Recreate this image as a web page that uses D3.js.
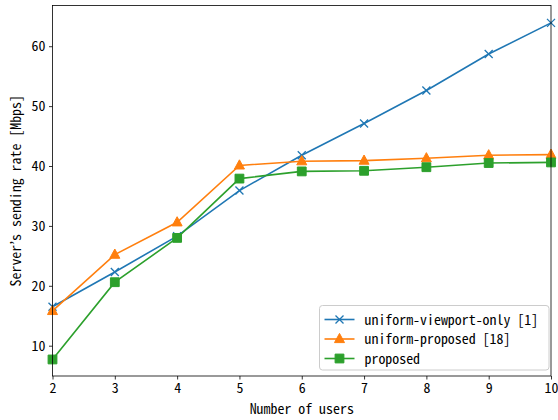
<!DOCTYPE html>
<html>
<head>
<meta charset="utf-8">
<script src="https://cdn.jsdelivr.net/npm/d3@7"></script>
<style>
  body { margin: 0; background: #fff; }
  svg text { font-family: "Noto Sans Mono CJK JP", "Noto Sans CJK JP", "Liberation Mono", monospace; font-size: 13.9px; fill: #000; }
</style>
</head>
<body>
<svg id="chart" width="558" height="420"></svg>
<script>
// data
const users = [2, 3, 4, 5, 6, 7, 8, 9, 10];
const viewportOnly = [16.5, 22.3, 28.3, 35.9, 41.8, 47.1, 52.6, 58.7, 63.9];
const uniformProposed = [15.8, 25.2, 30.6, 40.1, 40.8, 40.9, 41.3, 41.8, 41.9];
const proposed = [7.7, 20.6, 28.0, 37.9, 39.1, 39.2, 39.8, 40.5, 40.6];

const xTicks = [2, 3, 4, 5, 6, 7, 8, 9, 10];
const yTicks = [10, 20, 30, 40, 50, 60];

const seriesNames = ["uniform-viewport-only [1]", "uniform-proposed [18]", "proposed"];
const seriesColors = ["#1f77b4", "#ff7f0e", "#2ca02c"];
const seriesMarkers = ["x", "triangle", "square"];
const seriesValues = [viewportOnly, uniformProposed, proposed];

const margin = { left: 52.5, right: 7, top: 5.5, bottom: 44 };
const width = 558, height = 420;

const svg = d3.select("#chart");

const x = d3.scaleLinear().domain([2, 10]).range([margin.left, width - margin.right]);
const y = d3.scaleLinear().domain([4.94, 66.8]).range([height - margin.bottom, margin.top]);

// axes
const xAxis = d3.axisBottom(x).tickValues(xTicks).tickSize(3.5).tickPadding(3.5).tickFormat(d3.format("d"));
const yAxis = d3.axisLeft(y).tickValues(yTicks).tickSize(3.5).tickPadding(3.5).tickFormat(d3.format("d"));

const gx = svg.append("g").attr("transform", `translate(0,${height - margin.bottom})`).call(xAxis);
const gy = svg.append("g").attr("transform", `translate(${margin.left},0)`).call(yAxis);
[gx, gy].forEach(g => {
  g.select(".domain").remove();
  g.selectAll("line").attr("stroke", "#000").attr("stroke-width", 0.8);
  g.attr("font-size", null).attr("font-family", null);
});

// series
const line = d3.line().x((d, i) => x(users[i])).y(d => y(d));

seriesValues.forEach((vals, s) => {
  const g = svg.append("g");
  g.append("path")
    .datum(vals)
    .attr("d", line)
    .attr("fill", "none")
    .attr("stroke", seriesColors[s])
    .attr("stroke-width", 1.6);
  g.selectAll(".m")
    .data(vals)
    .enter()
    .append("path")
    .attr("transform", (d, i) => `translate(${x(users[i])},${y(d)})`)
    .each(function () { drawMarker(d3.select(this), seriesMarkers[s], seriesColors[s]); });
});

function drawMarker(sel, kind, color) {
  if (kind === "x") {
    sel.attr("d", "M-4,-4L4,4M-4,4L4,-4").attr("stroke", color).attr("stroke-width", 1.3).attr("fill", "none");
  } else if (kind === "triangle") {
    sel.attr("d", "M0,-5.6L5,3.6L-5,3.6Z").attr("fill", color).attr("stroke", color).attr("stroke-width", 1);
  } else {
    sel.attr("d", "M-4.4,-4.4H4.4V4.4H-4.4Z").attr("fill", color).attr("stroke", color).attr("stroke-width", 1);
  }
}

// frame
svg.append("rect")
  .attr("x", margin.left).attr("y", margin.top)
  .attr("width", width - margin.right - margin.left)
  .attr("height", height - margin.bottom - margin.top)
  .attr("fill", "none").attr("stroke", "#000").attr("stroke-width", 0.8);

// labels
svg.append("text")
  .attr("x", (margin.left + width - margin.right) / 2)
  .attr("y", 414)
  .attr("text-anchor", "middle")
  .text("Number of users");

svg.append("text")
  .attr("transform", `translate(21,${(margin.top + height - margin.bottom) / 2}) rotate(-90)`)
  .attr("text-anchor", "middle")
  .text("Server\u2019s sending rate [Mbps]");

// legend
const legend = svg.append("g").attr("transform", "translate(319.5,305.5)");
legend.append("rect")
  .attr("width", 229.5).attr("height", 64.5)
  .attr("rx", 3)
  .attr("fill", "#fff").attr("fill-opacity", 0.8)
  .attr("stroke", "#ccc").attr("stroke-width", 1);

seriesNames.forEach((name, s) => {
  const ry = 14 + s * 19.5;
  legend.append("line")
    .attr("x1", 5).attr("x2", 35).attr("y1", ry).attr("y2", ry)
    .attr("stroke", seriesColors[s]).attr("stroke-width", 1.6);
  legend.append("path")
    .attr("transform", `translate(20,${ry})`)
    .each(function () { drawMarker(d3.select(this), seriesMarkers[s], seriesColors[s]); });
  legend.append("text")
    .attr("x", 45).attr("y", ry + 5)
    .text(name);
});
</script>
</body>
</html>
